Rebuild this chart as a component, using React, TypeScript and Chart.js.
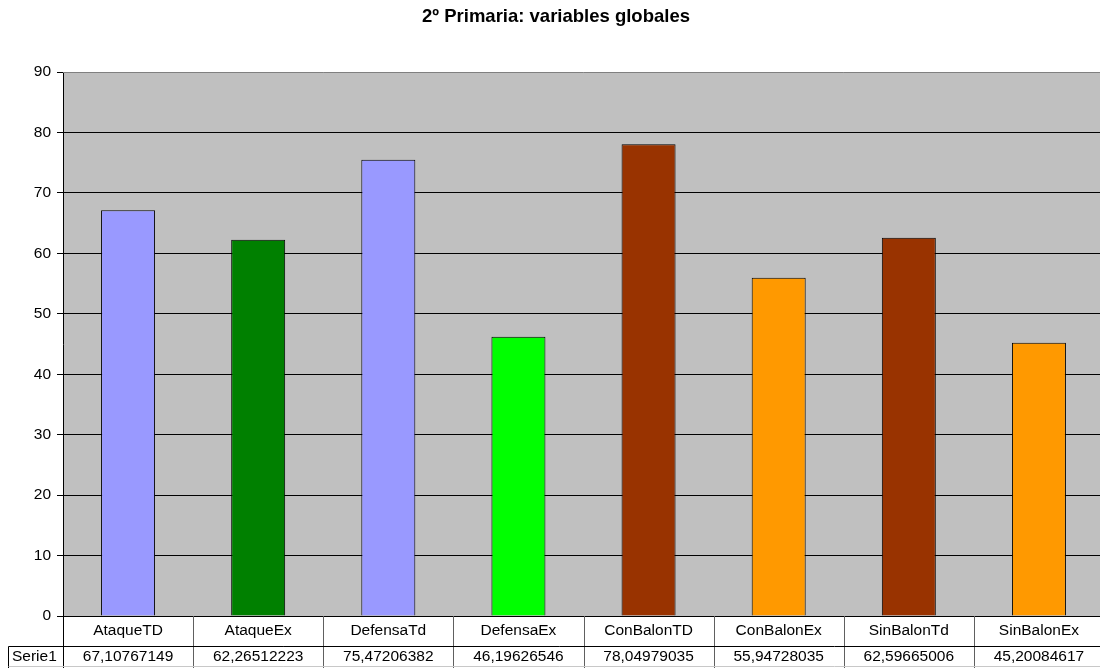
import React, { useEffect, useRef } from "react";
import { Chart, registerables } from "chart.js";

Chart.register(...registerables);

const title = "2º Primaria: variables globales";
const categories = [
  "AtaqueTD",
  "AtaqueEx",
  "DefensaTd",
  "DefensaEx",
  "ConBalonTD",
  "ConBalonEx",
  "SinBalonTd",
  "SinBalonEx",
];
const seriesName = "Serie1";
const values = [
  67.10767149, 62.26512223, 75.47206382, 46.19626546, 78.04979035, 55.94728035,
  62.59665006, 45.20084617,
];
const barColors = [
  "#9999FF",
  "#008000",
  "#9999FF",
  "#00FF00",
  "#993300",
  "#FF9900",
  "#993300",
  "#FF9900",
];
const yTicks = [0, 10, 20, 30, 40, 50, 60, 70, 80, 90];

const FONT = "'Liberation Sans', Arial, sans-serif";

const fmt = (v: number) => v.toFixed(8).replace(".", ",");

// Plot background, title and the data table under the axis
const excelPlugin = {
  id: "excelStyle",
  beforeDraw(chart: any) {
    const { ctx, chartArea } = chart;
    ctx.save();
    ctx.fillStyle = "#FFFFFF";
    ctx.fillRect(0, 0, chart.width, chart.height);
    ctx.fillStyle = "#C0C0C0";
    ctx.fillRect(
      chartArea.left,
      chartArea.top,
      chartArea.right - chartArea.left,
      chartArea.bottom - chartArea.top
    );
    ctx.restore();
  },
  afterDraw(chart: any) {
    const { ctx, chartArea } = chart;
    const x = chart.scales.x;
    ctx.save();
    // title
    ctx.fillStyle = "#000";
    ctx.font = `bold 18.5px ${FONT}`;
    ctx.textAlign = "center";
    ctx.textBaseline = "middle";
    ctx.fillText(title, 556, 17);

    // plot border top
    ctx.strokeStyle = "#808080";
    ctx.lineWidth = 1;
    ctx.beginPath();
    ctx.moveTo(chartArea.left, Math.round(chartArea.top) + 0.5);
    ctx.lineTo(chartArea.right, Math.round(chartArea.top) + 0.5);
    ctx.stroke();

    const rowTop = Math.round(chartArea.bottom);
    const rowMid = rowTop + 30;
    const rowBot = rowMid + 20;
    const step = x.getPixelForValue(1) - x.getPixelForValue(0);

    // vertical separators
    ctx.strokeStyle = "#606060";
    for (let i = 1; i < categories.length; i++) {
      const bx = Math.round(x.getPixelForValue(i) - step / 2) + 0.5;
      ctx.beginPath();
      ctx.moveTo(bx, rowTop);
      ctx.lineTo(bx, rowBot + 2);
      ctx.stroke();
    }
    // axis line extended down
    ctx.strokeStyle = "#000";
    const ax = Math.round(chartArea.left) + 0.5;
    ctx.beginPath();
    ctx.moveTo(ax, rowTop);
    ctx.lineTo(ax, rowBot + 2);
    ctx.stroke();
    // series label cell
    ctx.beginPath();
    ctx.moveTo(8.5, rowMid + 0.5);
    ctx.lineTo(chart.width, rowMid + 0.5);
    ctx.moveTo(8.5, rowMid + 0.5);
    ctx.lineTo(8.5, rowBot + 2);
    ctx.stroke();
    ctx.strokeStyle = "#C8C8C8";
    ctx.beginPath();
    ctx.moveTo(8.5, rowBot + 0.5);
    ctx.lineTo(chart.width, rowBot + 0.5);
    ctx.stroke();

    // texts
    ctx.fillStyle = "#000";
    ctx.font = `15.5px ${FONT}`;
    ctx.textAlign = "center";
    ctx.textBaseline = "middle";
    categories.forEach((c, i) => {
      const cx = x.getPixelForValue(i);
      ctx.fillText(c, cx, rowTop + 15);
      ctx.fillText(fmt(values[i]), cx, rowMid + 10.5);
    });
    ctx.textAlign = "left";
    ctx.fillText(seriesName, 12, rowMid + 10.5);
    ctx.restore();
  },
};

export default function App() {
  const ref = useRef<HTMLCanvasElement | null>(null);

  useEffect(() => {
    if (!ref.current) return;
    const chart = new Chart(ref.current, {
      type: "bar",
      data: {
        labels: categories,
        datasets: [
          {
            label: seriesName,
            data: values,
            backgroundColor: barColors,
            borderColor: "#000",
            borderWidth: 1,
            categoryPercentage: 1,
            barPercentage: 0.415,
          },
        ],
      },
      options: {
        animation: false,
        responsive: false,
        devicePixelRatio: 1,
        layout: { padding: { left: 0, top: 72, right: 6, bottom: 52 } },
        plugins: {
          legend: { display: false },
          title: { display: false },
          tooltip: { enabled: false },
        },
        scales: {
          x: {
            display: false,
          },
          y: {
            min: 0,
            max: 90,
            afterBuildTicks(scale: any) {
              scale.ticks = yTicks.map((v) => ({ value: v }));
            },
            afterFit(scale: any) {
              scale.width = 63;
            },
            border: { display: true, color: "#000", width: 1 },
            grid: {
              color: (c: any) => (c.tick && c.tick.value === 90 ? "rgba(0,0,0,0)" : "#000"),
              tickColor: "#000",
              tickLength: 6,
              drawTicks: true,
            },
            ticks: {
              color: "#000",
              padding: 6,
              font: { family: FONT, size: 15.5 },
            },
          },
        },
      },
      plugins: [excelPlugin],
    });
    return () => chart.destroy();
  }, []);

  return (
    <div
      style={{
        position: "fixed",
        left: 0,
        top: 0,
        width: 1100,
        height: 668,
        overflow: "hidden",
        background: "#fff",
      }}
    >
      <canvas ref={ref} width={1110} height={668} style={{ display: "block" }} />
    </div>
  );
}
